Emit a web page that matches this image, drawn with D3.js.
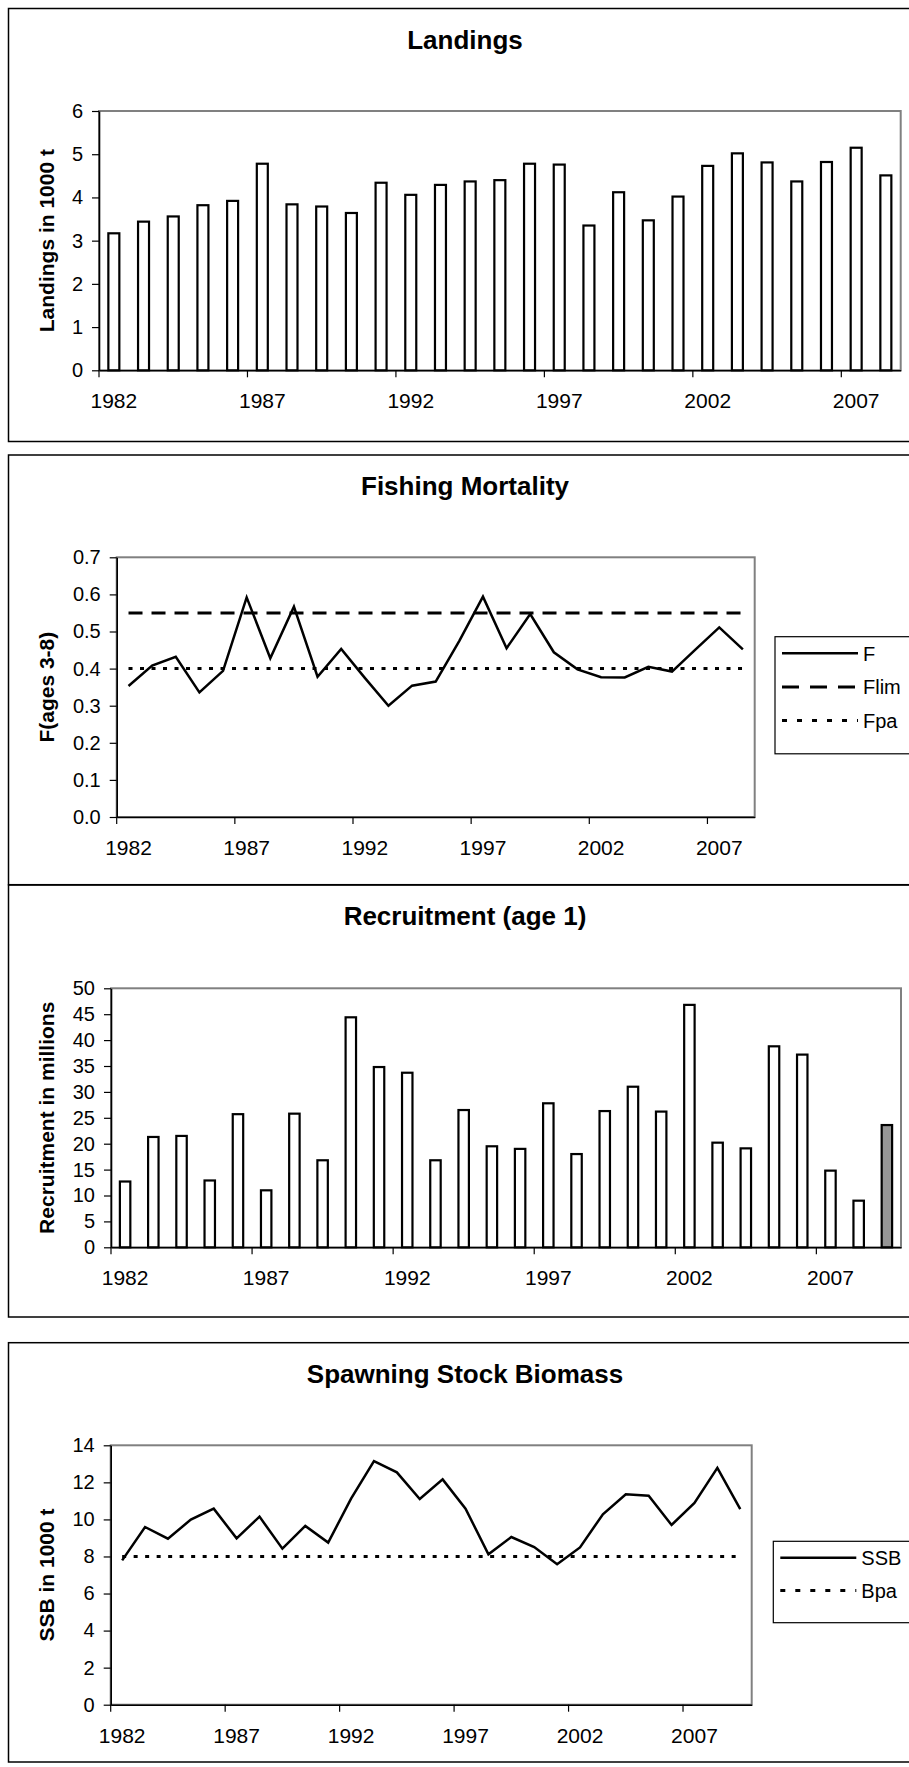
<!DOCTYPE html>
<html>
<head>
<meta charset="utf-8">
<script src="https://cdnjs.cloudflare.com/ajax/libs/d3/7.8.5/d3.min.js"></script>
<style>
  body { margin: 0; background: #fff; }
  svg { display: block; font-family: "Liberation Sans", Arial, sans-serif; }
</style>
</head>
<body>
<div id="chart-area"></div>
<script>
// Data
const years = [1982, 1983, 1984, 1985, 1986, 1987, 1988, 1989, 1990, 1991,
  1992, 1993, 1994, 1995, 1996, 1997, 1998, 1999, 2000, 2001,
  2002, 2003, 2004, 2005, 2006, 2007, 2008, 2009];
const yearTicks = [1982, 1987, 1992, 1997, 2002, 2007];

// Landings in 1000 t (1982-2008)
const landings = [3.17, 3.44, 3.56, 3.82, 3.92, 4.78, 3.84, 3.79, 3.64, 4.34,
  4.06, 4.29, 4.37, 4.40, 4.78, 4.76, 3.35, 4.12, 3.47, 4.02,
  4.73, 5.02, 4.81, 4.37, 4.82, 5.15, 4.51];
const landingsTicks = [0, 1, 2, 3, 4, 5, 6];

// Fishing mortality F(ages 3-8) (1982-2008)
const fishingF = [0.353, 0.408, 0.432, 0.336, 0.394, 0.592, 0.428, 0.567, 0.378, 0.453,
  0.375, 0.300, 0.354, 0.365, 0.475, 0.594, 0.455, 0.547, 0.444, 0.398,
  0.377, 0.376, 0.405, 0.392, 0.452, 0.511, 0.452];
const fLim = 0.55;
const fPa = 0.40;
const fTicks = [0.0, 0.1, 0.2, 0.3, 0.4, 0.5, 0.6, 0.7];

// Recruitment (age 1) in millions (1982-2009, last one is an estimate)
const recruitment = [12.7, 21.3, 21.5, 12.9, 25.7, 11.0, 25.8, 16.8, 44.4, 34.8,
  33.7, 16.8, 26.5, 19.5, 19.0, 27.8, 18.0, 26.3, 31.0, 26.2,
  46.8, 20.2, 19.1, 38.8, 37.2, 14.8, 9.0, 23.6];
const recruitTicks = [0, 5, 10, 15, 20, 25, 30, 35, 40, 45, 50];

// Spawning stock biomass in 1000 t (1982-2009)
const ssb = [7.79, 9.59, 8.96, 9.99, 10.58, 8.98, 10.15, 8.42, 9.65, 8.75,
  11.12, 13.15, 12.54, 11.10, 12.16, 10.58, 8.12, 9.05, 8.51, 7.58,
  8.49, 10.28, 11.36, 11.28, 9.70, 10.89, 12.78, 10.56];
const bPa = 8;
const ssbTicks = [0, 2, 4, 6, 8, 10, 12, 14];

const FONT = '"Liberation Sans", Arial, sans-serif';

const svg = d3.select('#chart-area').append('svg')
  .attr('width', 909)
  .attr('height', 1767);

// Draw one framed panel with axes, returns scales
function panel(p) {
  // outer frame (runs off the right edge like the reference)
  svg.append('rect')
    .attr('x', 8.5)
    .attr('y', p.top)
    .attr('width', 940)
    .attr('height', p.bottom - p.top)
    .attr('fill', 'none')
    .attr('stroke', '#000')
    .attr('stroke-width', 1.5);

  // title
  svg.append('text')
    .attr('x', 465)
    .attr('y', p.top + 40)
    .attr('text-anchor', 'middle')
    .attr('font-size', '26px')
    .attr('font-weight', 'bold')
    .text(p.title);

  const x = d3.scaleBand()
    .domain(p.cats)
    .range([p.left, p.right]);

  const y = d3.scaleLinear()
    .domain([0, p.yMax])
    .range([p.plotBottom, p.plotTop]);

  // plot area border (grey)
  svg.append('rect')
    .attr('x', p.left)
    .attr('y', p.plotTop)
    .attr('width', p.right - p.left)
    .attr('height', p.plotBottom - p.plotTop)
    .attr('fill', 'none')
    .attr('stroke', '#808080')
    .attr('stroke-width', 2);

  // Y axis
  const yAxis = svg.append('g')
    .attr('transform', 'translate(' + p.left + ',0)')
    .call(d3.axisLeft(y)
      .tickValues(p.yTicks)
      .tickFormat(p.fmt)
      .tickSize(7)
      .tickSizeOuter(0)
      .tickPadding(9));
  yAxis.attr('font-family', FONT).attr('font-size', 20);
  yAxis.select('.domain').attr('stroke', '#000').attr('stroke-width', 1.6);
  yAxis.selectAll('.tick line').attr('stroke', '#000').attr('stroke-width', 1.2);
  yAxis.selectAll('.tick text').attr('fill', '#000');

  // X axis labels at category centres
  const xAxis = svg.append('g')
    .attr('transform', 'translate(0,' + p.plotBottom + ')')
    .call(d3.axisBottom(x)
      .tickValues(yearTicks)
      .tickSize(0)
      .tickSizeOuter(0)
      .tickPadding(23));
  xAxis.attr('font-family', FONT).attr('font-size', 21);
  xAxis.select('.domain').attr('stroke', '#000').attr('stroke-width', 1.6);
  xAxis.selectAll('.tick text').attr('fill', '#000');

  // X tick marks between categories
  svg.append('g').selectAll('line')
    .data(yearTicks)
    .enter()
    .append('line')
    .attr('x1', (d) => x(d))
    .attr('x2', (d) => x(d))
    .attr('y1', p.plotBottom)
    .attr('y2', p.plotBottom + 7)
    .attr('stroke', '#000')
    .attr('stroke-width', 1.2);

  // Y axis title
  svg.append('text')
    .attr('transform', 'translate(54,' + ((p.plotTop + p.plotBottom) / 2) + ') rotate(-90)')
    .attr('text-anchor', 'middle')
    .attr('font-size', '21px')
    .attr('font-weight', 'bold')
    .text(p.yTitle);

  return { x, y };
}

function bars(s, cats, values, fillFn) {
  const w = s.x.bandwidth() * 0.37;
  svg.append('g').selectAll('rect')
    .data(values)
    .enter()
    .append('rect')
    .attr('x', (d, i) => s.x(cats[i]) + (s.x.bandwidth() - w) / 2)
    .attr('y', (d) => s.y(d))
    .attr('width', w)
    .attr('height', (d) => s.y(0) - s.y(d))
    .attr('fill', fillFn)
    .attr('stroke', '#000')
    .attr('stroke-width', 2.2);
}

function series(s, cats, values, width, dash) {
  const line = d3.line()
    .x((d, i) => s.x(cats[i]) + s.x.bandwidth() / 2)
    .y((d) => s.y(d));
  svg.append('path')
    .datum(values)
    .attr('d', line)
    .attr('fill', 'none')
    .attr('stroke', '#000')
    .attr('stroke-width', width)
    .attr('stroke-dasharray', dash)
    .attr('stroke-linejoin', 'miter');
}

function legend(lx, ly, rowH, items) {
  svg.append('rect')
    .attr('x', lx)
    .attr('y', ly)
    .attr('width', 200)
    .attr('height', rowH * items.length + 16)
    .attr('fill', '#fff')
    .attr('stroke', '#000')
    .attr('stroke-width', 1.2);
  items.forEach((it, i) => {
    const cy = ly + 16.5 + i * rowH;
    svg.append('line')
      .attr('x1', lx + 7)
      .attr('x2', lx + 83)
      .attr('y1', cy)
      .attr('y2', cy)
      .attr('stroke', '#000')
      .attr('stroke-width', it.width)
      .attr('stroke-dasharray', it.dash);
    svg.append('text')
      .attr('x', lx + 88)
      .attr('y', cy + 7.3)
      .attr('font-size', '20px')
      .text(it.name);
  });
}

// ---- Landings ----
const cats27 = years.slice(0, landings.length);
const s1 = panel({
  title: 'Landings', yTitle: 'Landings in 1000 t',
  top: 8.5, bottom: 441.5,
  left: 99, right: 900.7, plotTop: 111, plotBottom: 370.3,
  cats: cats27, yMax: 6, yTicks: landingsTicks, fmt: d3.format('d')
});
bars(s1, cats27, landings, () => '#fff');

// ---- Fishing Mortality ----
const s2 = panel({
  title: 'Fishing Mortality', yTitle: 'F(ages 3-8)',
  top: 455, bottom: 884.7,
  left: 116.7, right: 754.7, plotTop: 557.3, plotBottom: 817,
  cats: cats27, yMax: 0.7, yTicks: fTicks, fmt: d3.format('.1f')
});
series(s2, cats27, cats27.map(() => fLim), 3, '14,9');
series(s2, cats27, cats27.map(() => fPa), 3, '4,7.5');
series(s2, cats27, fishingF, 2.5, null);
legend(775, 636.7, 33.7, [
  { name: 'F', width: 2.5, dash: null },
  { name: 'Flim', width: 3, dash: '17,11' },
  { name: 'Fpa', width: 3, dash: '5,10' }
]);

// ---- Recruitment ----
const s3 = panel({
  title: 'Recruitment (age 1)', yTitle: 'Recruitment in millions',
  top: 885, bottom: 1317,
  left: 111, right: 901, plotTop: 988.3, plotBottom: 1247.3,
  cats: years, yMax: 50, yTicks: recruitTicks, fmt: d3.format('d')
});
bars(s3, years, recruitment, (d, i) => (i === recruitment.length - 1 ? '#969696' : '#fff'));

// ---- Spawning Stock Biomass ----
const s4 = panel({
  title: 'Spawning Stock Biomass', yTitle: 'SSB in 1000 t',
  top: 1342.7, bottom: 1762,
  left: 110.7, right: 751.7, plotTop: 1445.3, plotBottom: 1704.7,
  cats: years, yMax: 14, yTicks: ssbTicks, fmt: d3.format('d')
});
series(s4, years, years.map(() => bPa), 3, '4,7.5');
series(s4, years, ssb, 2.5, null);
legend(773.3, 1541.3, 32.7, [
  { name: 'SSB', width: 2.5, dash: null },
  { name: 'Bpa', width: 3, dash: '5,10' }
]);
</script>
</body>
</html>
